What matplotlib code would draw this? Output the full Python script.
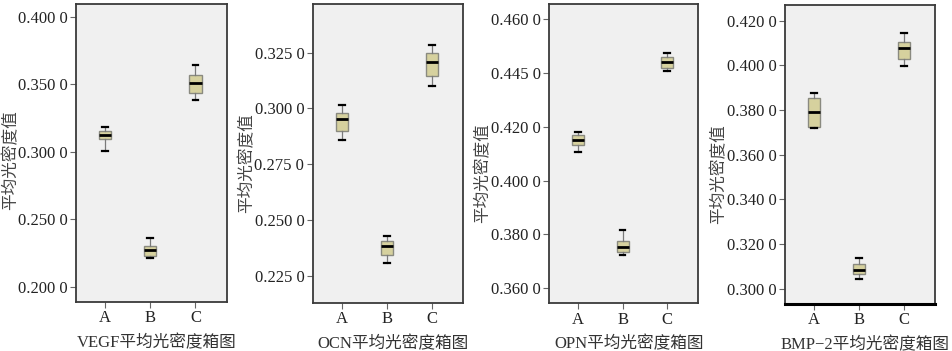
import matplotlib
matplotlib.use("Agg")
import matplotlib.pyplot as plt

plt.rcParams['font.family'] = ['Liberation Serif', 'Noto Sans CJK SC', 'DejaVu Sans']

categories = ["A", "B", "C"]

# Box statistics per panel: (whislo, q1, med, q3, whishi) for A, B, C
vegf_stats = [(0.3005, 0.3094, 0.3128, 0.3156, 0.3185),
              (0.2215, 0.2232, 0.2277, 0.2301, 0.2363),
              (0.3388, 0.3437, 0.3509, 0.3568, 0.3642)]
ocn_stats = [(0.2859, 0.2898, 0.2954, 0.2978, 0.3016),
             (0.2308, 0.2342, 0.2386, 0.2405, 0.2430),
             (0.3101, 0.3146, 0.3207, 0.3247, 0.3283)]
opn_stats = [(0.4107, 0.4131, 0.4151, 0.4170, 0.4180),
             (0.3722, 0.3733, 0.3754, 0.3776, 0.3816),
             (0.4407, 0.4420, 0.4440, 0.4460, 0.4476)]
bmp_stats = [(0.3718, 0.3726, 0.3792, 0.3856, 0.3878),
             (0.3044, 0.3065, 0.3084, 0.3110, 0.3139),
             (0.3996, 0.4027, 0.4080, 0.4104, 0.4146)]

vegf_ticks = [0.200, 0.250, 0.300, 0.350, 0.400]
vegf_ticklabels = ["0.200 0", "0.250 0", "0.300 0", "0.350 0", "0.400 0"]
ocn_ticks = [0.225, 0.250, 0.275, 0.300, 0.325]
ocn_ticklabels = ["0.225 0", "0.250 0", "0.275 0", "0.300 0", "0.325 0"]
opn_ticks = [0.360, 0.380, 0.400, 0.420, 0.440, 0.460]
opn_ticklabels = ["0.360 0", "0.380 0", "0.400 0", "0.420 0", "0.445 0", "0.460 0"]
bmp_ticks = [0.300, 0.320, 0.340, 0.360, 0.380, 0.400, 0.420]
bmp_ticklabels = ["0.300 0", "0.320 0", "0.340 0", "0.360 0", "0.380 0", "0.400 0", "0.420 0"]

xlabels = ["VEGF平均光密度箱图", "OCN平均光密度箱图", "OPN平均光密度箱图", "BMP−2平均光密度箱图"]
ylabel = "平均光密度值"

panels = [
    dict(stats=vegf_stats, ticks=vegf_ticks, labels=vegf_ticklabels, ylim=(0.1889, 0.4096),
         rect=(76, 4, 227, 302), ylab=(-0.375, 0.475)),
    dict(stats=ocn_stats, ticks=ocn_ticks, labels=ocn_ticklabels, ylim=(0.2130, 0.3468),
         rect=(312.7, 4, 463.3, 302.7), ylab=(-0.38, 0.466)),
    dict(stats=opn_stats, ticks=opn_ticks, labels=opn_ticklabels, ylim=(0.3543, 0.4657),
         rect=(549, 4, 698.3, 303.3), ylab=(-0.386, 0.434)),
    dict(stats=bmp_stats, ticks=bmp_ticks, labels=bmp_ticklabels, ylim=(0.2933, 0.4272),
         rect=(785, 4.7, 935, 303.7), ylab=(-0.384, 0.434)),
]

W, H = 953, 351
fig = plt.figure(figsize=(W / 100, H / 100), dpi=100)
fig.patch.set_facecolor("white")

for i, p in enumerate(panels):
    x0, y0, x1, y1 = p["rect"]
    ax = fig.add_axes([x0 / W, 1 - y1 / H, (x1 - x0) / W, (y1 - y0) / H])
    ax.set_facecolor("#f0f0f0")
    bxp = []
    for cat, s in zip(categories, p["stats"]):
        bxp.append(dict(label=cat, whislo=s[0], q1=s[1], med=s[2], q3=s[3], whishi=s[4], fliers=[]))
    ax.bxp(bxp, positions=[1, 2, 3], widths=0.27, capwidths=0.13, patch_artist=True,
           showfliers=False,
           boxprops=dict(facecolor="#d6d19e", edgecolor="#8a8a80", linewidth=1.0),
           medianprops=dict(color="black", linewidth=2.0),
           whiskerprops=dict(color="#7a7a7a", linewidth=0.9),
           capprops=dict(color="black", linewidth=1.6))
    ax.set_xlim(0.35, 3.7)
    ax.set_ylim(*p["ylim"])
    ax.set_yticks(p["ticks"])
    ax.set_yticklabels(p["labels"], fontsize=12, color="#222222")
    ax.set_xticks([1, 2, 3])
    ax.set_xticklabels(categories, fontsize=12, color="#222222")
    ax.tick_params(axis="both", length=4, width=0.8, color="#666666", pad=2)
    for sp in ax.spines.values():
        sp.set_color("#3a3a3a")
        sp.set_linewidth(1.3)
    if i == 3:
        ax.spines["bottom"].set_linewidth(2.2)
        ax.spines["bottom"].set_color("black")
    ax.set_ylabel(ylabel, fontsize=12, color="#444444")
    ax.yaxis.set_label_coords(*p["ylab"])
    ax.set_xlabel(xlabels[i], fontsize=12, color="#333333", labelpad=4)
    ax.xaxis.set_label_coords(0.535, -0.11)

fig.savefig("out.png", dpi=100)
